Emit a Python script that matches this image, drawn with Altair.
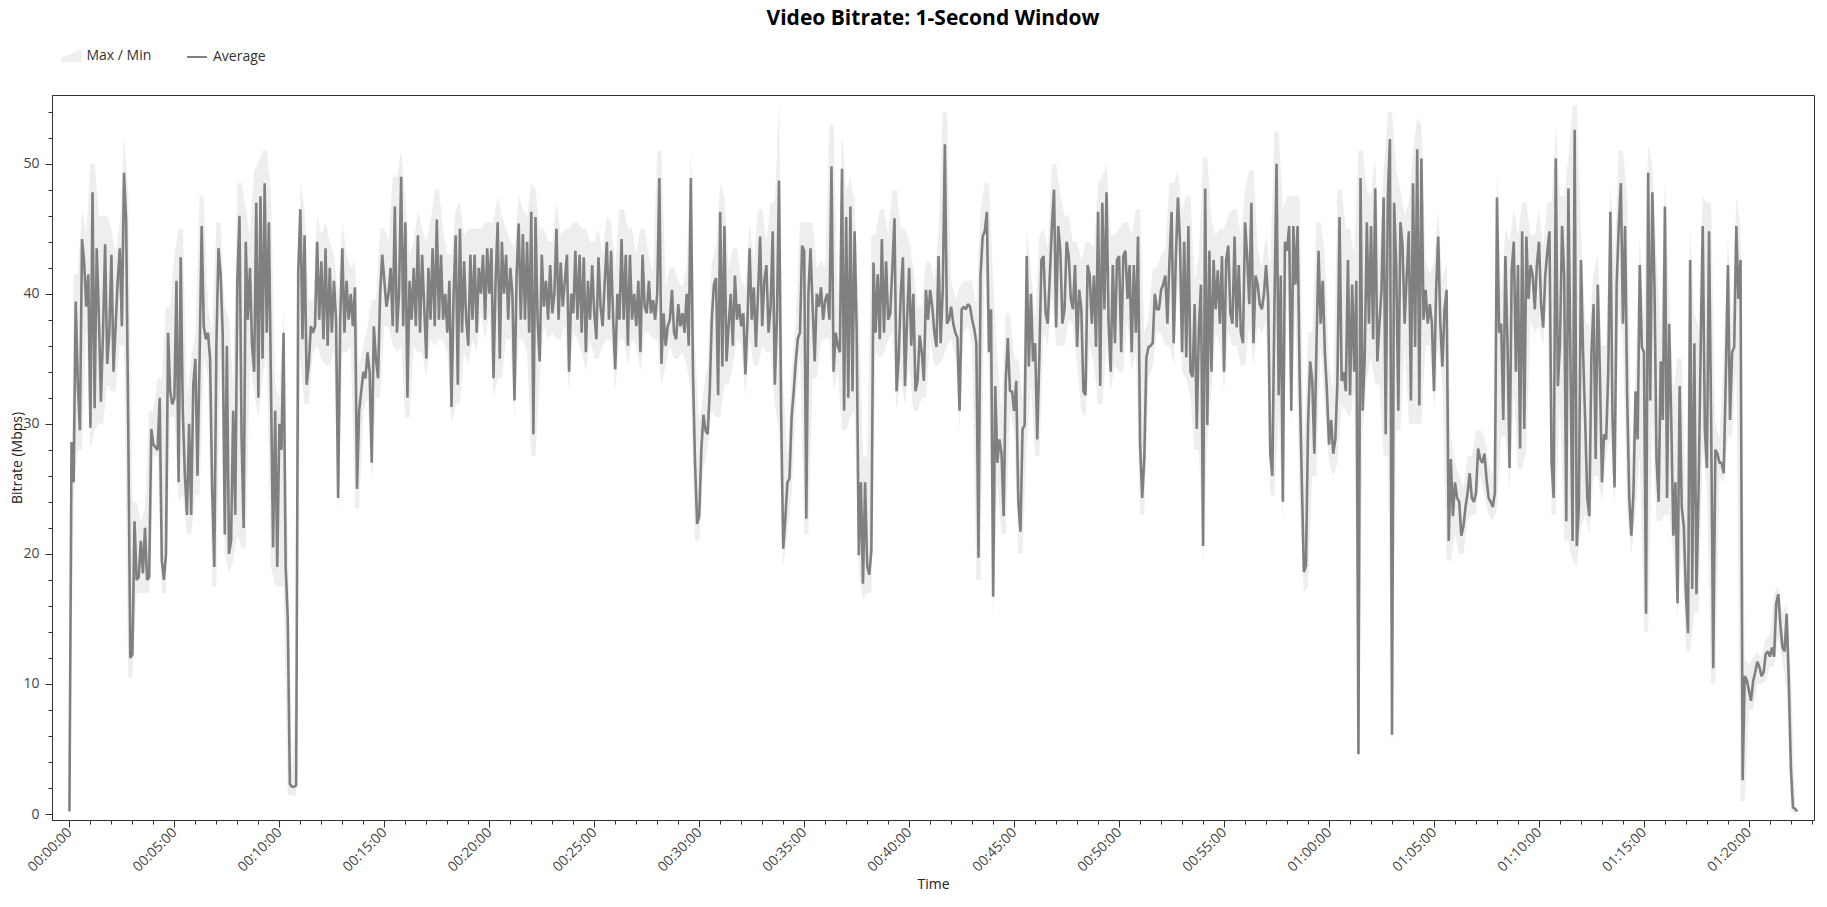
import altair as alt
import pandas as pd

TITLE = "Video Bitrate: 1-Second Window"

# Average bitrate (Mbps), one value every 0.1 minute, starting at 00:00:00
AVG = [
    0.2, 28.6, 25.5, 39.4, 33, 29.5, 44.2, 42.5, 39, 41.5,
    29.7, 47.8, 31.2, 43.5, 38.5, 31.7, 37, 43.8, 34.6, 37,
    43, 34, 37.5, 41, 43.5, 37.5, 49.3, 45.7, 30, 12,
    12.3, 22.5, 18, 18.2, 21, 18.5, 22, 18, 18.2, 29.6,
    28.4, 28.2, 28, 32, 19.5, 18, 20, 37, 32.5, 31.5,
    32, 41, 25.5, 42.8, 31, 26, 23, 30, 23, 33,
    35, 26, 35, 45.2, 37.5, 36.5, 37, 35, 25, 19,
    36, 43.5, 41.5, 37, 21.5, 36, 20, 21, 31, 23,
    41, 46, 29, 22, 44, 38, 42, 36, 34, 47,
    32, 47.5, 35, 48.5, 37, 45.5, 33, 20.5, 31, 19,
    30, 28, 37, 19, 15, 2.3, 2.1, 2.1, 2.2, 41.8,
    46.5, 36.5, 44.5, 33, 34.5, 37.5, 37, 37.5, 44, 38,
    42.5, 36.5, 43.5, 36, 42, 37, 41, 38, 24.3, 38,
    43.5, 37, 41, 38, 40, 37.5, 40.5, 25, 31, 32.5,
    34, 33.5, 35.5, 34, 27, 37.5, 35, 33.5, 40, 43,
    41, 39, 40, 42, 37.5, 46.7, 37, 40, 49, 37.5,
    45.5, 32, 41, 38, 42, 37.5, 44.5, 37, 43, 39,
    35, 42, 38, 43.5, 37.5, 45.7, 38, 43, 38, 40,
    37, 41, 31.3, 40, 44.5, 33, 45, 37, 42.5, 38,
    36, 43, 38, 43, 37, 42, 40, 43, 38, 43.5,
    40, 43.5, 33.5, 41, 45.5, 35, 44, 40, 43, 38,
    42, 40, 31.8, 41.4, 45.4, 38, 44.6, 38, 44, 37,
    46.3, 29.2, 45.9, 38, 34.8, 43, 39, 41, 38, 42.2,
    38.5, 40, 45, 38, 42.4, 39, 41, 43, 34, 40,
    38.5, 43.3, 38, 43, 37, 42.8, 35.5, 41, 38, 42.2,
    38.5, 36.5, 42.8, 39, 37.5, 41, 44, 38, 43.3, 38,
    34.2, 40, 38, 44.2, 38, 43, 36, 43, 38, 40,
    37.5, 41, 35.5, 43, 39, 38.5, 41, 38.5, 39.5, 38,
    40, 48.9, 34.6, 38.5, 36, 37.5, 38, 40.3, 37, 36.5,
    39.2, 37.5, 38.5, 37, 40, 36, 48.9, 34, 27, 22.3,
    22.9, 28, 30.7, 29.5, 29.2, 32.5, 38.1, 40.7, 41.2, 32.2,
    46.3, 34.4, 45.2, 34.8, 37.5, 40, 36, 41.4, 38, 39.2,
    37.5, 38.5, 33.8, 38, 43.5, 38, 40.5, 35.9, 40, 44.4,
    37.5, 41, 42.2, 37, 39, 44.8, 33, 38, 48.7, 31,
    20.4, 22.7, 25.5, 25.8, 30.5, 32.5, 34.8, 36.6, 37, 43.7,
    43.3, 22.7, 40, 43.5, 39, 34.8, 40, 39, 40.5, 38,
    39.5, 40, 38, 49.8, 34, 37, 36, 35.5, 49.6, 31,
    45.9, 32, 46.7, 32.5, 44.8, 37, 19.9, 25.5, 17.7, 25.5,
    19.1, 18.4, 20.3, 42.4, 37, 41.5, 36.5, 44.2, 37, 42.5,
    38, 38.5, 42, 45.8, 32.5, 35, 40, 42.8, 32.9, 38,
    42, 36, 40, 32.5, 33.3, 36.8, 35.5, 33.3, 40.3, 38,
    40.3, 39, 37, 35.9, 42.9, 36.2, 40.3, 51.5, 37.7, 38,
    39, 37.7, 37, 36.6, 31, 38.8, 39, 38.8, 39.2, 39,
    38, 37.3, 36.2, 19.7, 41.4, 44.4, 44.8, 46.3, 35.5, 38.8,
    16.7, 32.9, 27, 28.8, 27.7, 22.9, 33.3, 36.6, 32.5, 32.5,
    31, 33.3, 24, 21.7, 29.6, 29.9, 42.9, 34.4, 40, 34.8,
    36.2, 28.8, 35.1, 42.6, 42.9, 38.5, 37.7, 41.4, 45.2, 48,
    37.4, 45.2, 43.3, 37.7, 38.8, 44, 42.9, 39.6, 38.8, 42.2,
    35.9, 40.3, 38.8, 32.5, 32.2, 42.2, 41.4, 37.7, 41.4, 35.9,
    46.3, 32.9, 47, 38.8, 47.8, 37.7, 34, 42.2, 36.2, 42.6,
    42.9, 35.5, 42.9, 43.3, 39.6, 42.2, 35.5, 42.2, 37, 44.4,
    28.4, 24.3, 27.3, 35.1, 35.9, 36, 36.2, 40, 38.8, 38.8,
    40.3, 40.7, 41.4, 37.7, 42.6, 46.3, 36.2, 42.6, 47.4, 44,
    35.5, 44, 35.1, 45.2, 34, 33.6, 39.2, 29.6, 37.4, 40.7,
    20.6, 48.1, 29.9, 43.3, 34, 42.6, 38.8, 41.8, 37.7, 42.9,
    34, 42.6, 43.7, 38.5, 37.7, 44.4, 37.4, 42.2, 37, 36.2,
    45.5, 42.9, 39.2, 47, 36.2, 41.4, 40.7, 39.2, 38.8, 40,
    42.2, 39.6, 27.7, 26, 39.2, 50, 32.2, 41.4, 24, 44,
    43.3, 45.2, 31, 45.2, 40.7, 45.2, 33.6, 25.8, 18.6, 19.1,
    29.9, 34.8, 33.3, 27.7, 35.9, 43.3, 37.7, 41, 35.5, 32.5,
    28.4, 30.3, 27.7, 28.8, 33.3, 45.9, 33.3, 34, 32.5, 42.6,
    32.2, 40.7, 34, 41, 4.6, 48.9, 31, 35.1, 45.5, 37.7,
    45.2, 36.5, 48.1, 34.8, 37.7, 40.3, 47.4, 29.2, 47.4, 51.9,
    6.1, 47, 42.2, 31, 45.5, 43.7, 37.7, 41.4, 44.8, 31.8,
    48.5, 35.9, 51.1, 31.4, 50.4, 38, 40.3, 37.7, 39.2, 37.7,
    32.5, 40.3, 44.4, 37.7, 34.4, 38.8, 40.3, 21, 27.3, 22.9,
    25.5, 24.3, 24, 21.4, 22.1, 23.6, 24.7, 26.2, 24.3, 24,
    24.7, 28.1, 27.3, 27, 27.7, 25.8, 24.3, 24, 23.6, 24.7,
    47.4, 37, 37.7, 30.3, 42.9, 36.2, 26.6, 41.8, 44, 34,
    42.2, 28.1, 44.8, 29.6, 44.4, 39.6, 42.2, 41.4, 38.8, 42.2,
    44, 39.2, 37.4, 41.4, 43.3, 44.8, 27, 24.3, 50.4, 32.9,
    36.2, 45.2, 41.4, 22.5, 48.1, 34.8, 21, 52.6, 20.6, 23.6,
    42.6, 35.5, 30.3, 24.3, 22.9, 35.5, 39.2, 27.3, 40.7, 34,
    25.5, 29.2, 28.8, 34, 46.3, 30.7, 25.1, 40.7, 45.2, 48.5,
    37.7, 45.2, 32.2, 24.3, 21.4, 24.7, 32.5, 28.8, 42.2, 35.9,
    35.5, 15.4, 49.3, 31.8, 47.8, 40.7, 27.3, 24, 34.8, 30.3,
    46.7, 24.3, 37.7, 30.3, 21.4, 25.5, 16.2, 32.9, 23.6, 22.1,
    16.9, 13.9, 42.6, 17.3, 36.2, 16.9, 24.7, 35.5, 45.2, 29.6,
    26.6, 44.8, 30.3, 11.2, 28, 27.7, 27, 27, 26.2, 33.6,
    42.2, 30.3, 35.5, 35.9, 45.2, 39.6, 42.6, 2.6, 10.6, 10.3,
    9.5, 8.7, 10.2, 10.9, 11.7, 11.3, 10.6, 10.9, 12.3, 12.5,
    12.1, 12.8, 12.1, 16.2, 16.9, 14.5, 12.8, 12.5, 15.4, 10.2,
    3.5, 0.5, 0.4, 0.2,
]
AVG_STEP_MIN = 0.1

# Max / Min envelope (Mbps), one value every 0.2 minute
BAND_HI = [
    1,
    41.5, 41.5, 46.5, 44.5, 50, 50, 46, 46, 46, 45,
    43, 45.5, 52, 48, 24, 24, 22.5, 23.5, 31, 31,
    33.5, 33.5, 39, 39, 43, 45, 45, 32, 35, 37,
    47.5, 47.5, 39, 37, 45.5, 45.5, 39, 38, 33, 48.5,
    48.5, 46.5, 44.5, 49.5, 50, 51, 51, 48, 33, 32,
    39, 21, 3, 10, 48.5, 46.5, 39.5, 39.5, 46, 44.5,
    45.5, 44, 43, 40, 45.5, 43, 42, 42.5, 34.5, 36,
    37.5, 39.5, 39.5, 45, 45, 44, 49, 49, 51, 47.5,
    43, 44, 46.5, 45, 44, 45.5, 48, 48, 45, 43,
    43, 46.5, 47, 44.5, 45, 45, 45, 45, 45.5, 45.5,
    45.5, 47.5, 46, 45, 44, 43.5, 47.5, 46.5, 46, 48.5,
    48, 45, 45, 44, 44, 47, 44.5, 45, 45, 45.5,
    45.5, 45, 45, 44, 44, 45, 43, 46, 45.5, 42,
    46.5, 46.5, 45, 45, 43, 45, 45, 43, 41.5, 51,
    51, 40.5, 42, 42, 41, 40.5, 42, 51, 36, 30,
    32.5, 34.5, 42.5, 43.5, 48.5, 47.5, 42, 43.5, 43.5, 41,
    40.5, 45.5, 42.5, 46.5, 46.5, 44, 47, 47, 54.7, 33,
    27.5, 34, 38, 45.5, 45.5, 45.5, 45.5, 42, 42.5, 42,
    53, 53, 39, 52.5, 48, 49, 47, 39, 27.5, 27.5,
    44.5, 44.5, 46.5, 46.5, 44.5, 48, 48, 45, 45, 44,
    42, 39, 39, 42.5, 42.5, 41, 45, 54, 54, 41,
    39.5, 40.5, 41, 41, 41, 39, 46.5, 48.5, 48.5, 41,
    35, 31, 38.5, 38.5, 35, 35, 32, 45, 42, 38,
    44.5, 45, 43.5, 50, 50, 47.5, 46, 46, 44, 44,
    42.5, 44, 44, 43.5, 48.5, 49, 50, 44.5, 44.5, 45,
    45.5, 45.5, 44.5, 46.5, 46.5, 37, 38, 42, 42, 43,
    43.5, 48.5, 48.5, 49.5, 46.5, 47.5, 47.5, 41, 43, 50.5,
    50.5, 45.5, 44.5, 45, 45, 46, 46.5, 46.5, 44.5, 48,
    49.5, 49.5, 43.5, 42, 44.5, 42, 52.5, 52.5, 46.5, 47.5,
    47.5, 47.5, 47.5, 28, 37, 37, 45.5, 45.5, 43, 34.5,
    32.5, 48, 48, 45, 45, 43, 51, 51, 48, 47.5,
    50.5, 42.5, 49.5, 54, 54, 49.5, 48, 46, 47, 51,
    53.5, 53, 42.5, 41.5, 42.5, 46.5, 41, 42.5, 29, 27,
    26, 25, 27.5, 27.5, 29.5, 29.5, 29, 27, 26, 49.5,
    40, 45, 44, 46.5, 44.5, 47, 47, 44.5, 44.5, 46.5,
    43.5, 47, 47, 53, 47.5, 47.5, 50.5, 54.5, 54.5, 45,
    38, 37.5, 41.5, 43, 36, 36, 48.5, 43, 51, 51,
    47.5, 27, 34.5, 44.5, 38, 51.5, 50, 43, 37, 49,
    40, 32.5, 35, 35, 24, 45, 38.5, 37.5, 47.5, 47,
    47, 30, 29, 35.5, 44.5, 38, 47.5, 45, 12, 11.5,
    12, 12.5, 12, 13.5, 13.8, 17, 17.5, 15.5, 16.2, 11,
    1,
]
BAND_LO = [
    0,
    24, 28, 28, 37.5, 28, 29.5, 30, 30, 33, 32.5,
    32.5, 36, 36, 10.5, 10.5, 17, 17, 17, 17, 27.5,
    27.5, 17, 17, 30.5, 30.5, 24, 24.5, 21.5, 21.5, 24.5,
    24.5, 35, 33.5, 17.5, 17.5, 35.5, 20, 18.5, 19.5, 21.5,
    20.5, 20.5, 34.5, 32.5, 30.5, 33.5, 35.5, 19, 17.5, 17.5,
    17.5, 1.5, 1.4, 1.4, 35, 31.5, 31.5, 35.5, 36, 35,
    34.5, 34.5, 35.5, 23, 35.5, 35.5, 36, 23.5, 23.5, 31,
    32, 25.5, 32, 32, 37.5, 37.5, 36, 35.5, 36, 30.5,
    30.5, 36, 35.5, 35.5, 33.5, 36.5, 36, 36.5, 36.5, 35.5,
    30, 31.5, 31.5, 35.5, 34.5, 36.5, 35.5, 38.5, 36.5, 38.5,
    32, 33.5, 33.5, 36.5, 36.5, 30.5, 36.5, 36.5, 35.5, 27.5,
    27.5, 33.5, 37.5, 36.5, 37, 36.5, 36.5, 37.5, 32.5, 37,
    36.5, 35.5, 34, 36.5, 35, 35, 36, 36.5, 36.5, 32.5,
    36.5, 36.5, 34.5, 36.5, 36, 34, 37, 37, 36.5, 36.5,
    33, 34.5, 36, 35, 35, 35.5, 34.5, 32.5, 21, 21,
    26.5, 28, 31, 30.5, 30.5, 33, 33, 34.5, 36.5, 36,
    32, 36.5, 34.5, 34.5, 36, 35.5, 35.5, 31.5, 29.5, 19,
    21.5, 24.5, 31.5, 35.5, 21.5, 21.5, 33.5, 33.5, 36.5, 36.5,
    36.5, 32.5, 34, 29.5, 29.5, 30.5, 31, 18.5, 16.5, 17,
    17, 35.5, 35, 35.5, 36.5, 37, 31, 33.5, 31.5, 34.5,
    31, 31, 32, 32, 36.5, 34.5, 34.5, 35, 36, 36.5,
    35, 29.5, 37, 37.5, 36, 18, 18, 42.5, 34, 15,
    25.5, 21.5, 21.5, 31, 29.5, 20, 20, 28.5, 33, 27.5,
    27.5, 37, 36, 40, 36, 36, 36, 38, 37.5, 34.5,
    31, 30.5, 36, 34.5, 31.5, 31.5, 36, 32.5, 34.5, 34,
    34, 38, 34, 35.5, 23, 23, 33.5, 34.5, 37, 37,
    36, 36, 34.5, 41, 34, 33.5, 32, 28, 28, 19,
    28.5, 32.5, 37, 36, 32.5, 37, 36, 36, 34.5, 34.5,
    37.5, 34.5, 37.5, 37, 38, 24.5, 24.5, 30.5, 22.5, 41.5,
    29.5, 39, 24, 17, 17.5, 26, 26, 36, 31, 27,
    26, 27, 31.5, 31, 30.5, 32.5, 3.5, 29.5, 33.5, 35,
    33, 33, 27.5, 27.5, 4.5, 29.5, 29.5, 36, 30, 30,
    30, 30, 36, 36, 31, 36, 33, 19.5, 19.5, 21.5,
    20, 20, 22.5, 23, 23, 26, 24.5, 23, 22.5, 23.5,
    29, 29, 25, 32.5, 26.5, 26.5, 28, 38, 37, 37.5,
    36, 40, 23, 23, 31.5, 21, 21, 19.5, 19, 22,
    23, 21.5, 26, 26, 24, 27.5, 29, 23.5, 39, 36,
    23, 20, 23, 27.5, 14, 14, 30.5, 22.5, 22.5, 23,
    23, 20, 15, 20.5, 12.5, 12.5, 15.5, 15.5, 28, 25,
    10, 10, 26, 25.5, 29, 29, 34.5, 1, 1, 8,
    8, 10, 10, 10.2, 11.3, 11.3, 13.5, 11.7, 9.5, 0.2,
    0,
]
BAND_STEP_MIN = 0.2

X_TICKS = list(range(0, 84))       # one tick per minute
Y_TICKS = list(range(0, 56, 2))    # one tick per 2 Mbps

df_avg = pd.DataFrame({
    "t": [round(i * AVG_STEP_MIN, 3) for i in range(len(AVG))],
    "v": AVG,
    "avg_s": "Average",
})
df_band = pd.DataFrame({
    "t": [round(i * BAND_STEP_MIN, 3) for i in range(len(BAND_HI))],
    "lo": BAND_LO,
    "hi": BAND_HI,
    "band_s": "Max / Min",
})
df_title = pd.DataFrame({"title": [TITLE]})

FONT = "Open Sans"
AX = "#333333"
W, H = 1762, 725

x_scale = alt.Scale(domain=[-0.83, 83.1], nice=False, zero=False)
y_scale = alt.Scale(domain=[-0.46, 55.28], nice=False, zero=False)

x_axis = alt.Axis(
    title="Time",
    values=X_TICKS,
    labelExpr="datum.value % 5 === 0 ? format(floor(datum.value / 60), '02d') + ':' + format(datum.value % 60, '02d') + ':00' : ''",
    labelAngle=-45,
    labelAlign="right",
    labelBaseline="middle",
    labelPadding=3,
    labelOverlap=False,
    labelFlush=False,
    labelBound=False,
    tickSize={"condition": {"test": "datum.value % 5 === 0", "value": 7}, "value": 4},
    grid=False,
    domainColor=AX,
    tickColor=AX,
    labelColor="#444444",
    labelFontSize=14,
    labelFont=FONT,
    titleFont=FONT,
    titleFontSize=14,
    titleFontWeight="normal",
    titleColor="#222222",
    titleX=W / 2,
    titleY=64,
    titleAlign="center",
    titleBaseline="middle",
)
y_axis = alt.Axis(
    title="Bitrate (Mbps)",
    values=Y_TICKS,
    labelExpr="datum.value % 10 === 0 ? datum.label : ''",
    tickSize={"condition": {"test": "datum.value % 10 === 0", "value": 7}, "value": 4},
    labelPadding=6,
    labelOverlap=False,
    labelFlush=False,
    grid=False,
    domainColor=AX,
    tickColor=AX,
    labelColor="#444444",
    labelFontSize=14,
    labelFont=FONT,
    titleFont=FONT,
    titleFontSize=14,
    titleFontWeight="normal",
    titleColor="#222222",
    titleAngle=-90,
    titleX=-35,
    titleY=H / 2,
    titleAlign="center",
    titleBaseline="middle",
)

band = alt.Chart(df_band).mark_area(opacity=1).encode(
    x=alt.X("t:Q", scale=x_scale, axis=x_axis),
    y=alt.Y("lo:Q", scale=y_scale, axis=y_axis),
    y2="hi:Q",
    fill=alt.Fill(
        "band_s:N",
        scale=alt.Scale(domain=["Max / Min"], range=["#eeeeee"]),
        legend=alt.Legend(
            title=None, orient="none", legendX=9.5, legendY=-49,
            symbolType="M-1,0.6L1,0.6L1,-0.67L-1,0.17Z", symbolSize=400,
            symbolStrokeWidth=0, labelFontSize=14, labelFont=FONT,
            labelColor="#333333", labelOffset=5, padding=0,
        ),
    ),
)

line = alt.Chart(df_avg).mark_line(strokeWidth=2.6, strokeJoin="bevel").encode(
    x=alt.X("t:Q", scale=x_scale, axis=x_axis),
    y=alt.Y("v:Q", scale=y_scale, axis=y_axis),
    stroke=alt.Stroke(
        "avg_s:N",
        scale=alt.Scale(domain=["Average"], range=["#808080"]),
        legend=alt.Legend(
            title=None, orient="none", legendX=134, legendY=-49,
            symbolType="stroke", symbolSize=400, symbolStrokeWidth=2,
            labelFontSize=14, labelFont=FONT, labelColor="#333333",
            labelOffset=5, padding=0,
        ),
    ),
)

title = alt.Chart(df_title).mark_text(
    font=FONT, fontSize=21, fontWeight="bold", color="#000000",
    align="center", baseline="alphabetic",
).encode(
    x=alt.value(W / 2),
    y=alt.value(-70),
    text="title:N",
)

chart = alt.layer(band, line, title).properties(
    width=W,
    height=H,
    padding={"left": 44, "top": 87, "right": 5, "bottom": 73},
    autosize=alt.AutoSizeParams(type="none"),
).configure(
    font=FONT, background="#ffffff"
).configure_view(
    stroke=AX, strokeWidth=1
)

chart.save("out.html", embed_options={"renderer": "svg", "actions": False})
